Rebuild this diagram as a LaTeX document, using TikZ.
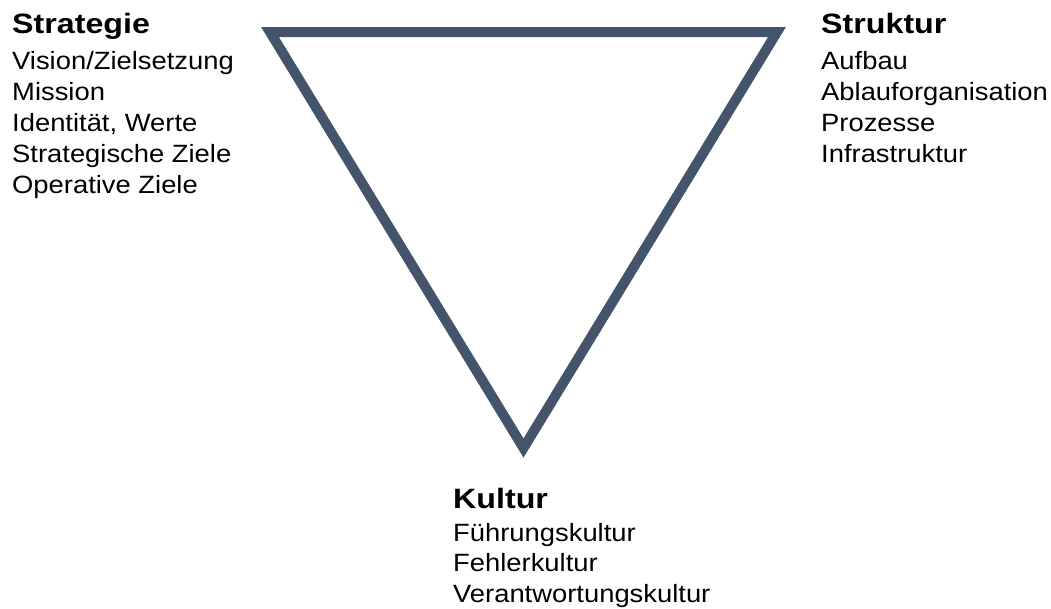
\documentclass[tikz,border=0pt]{standalone}
\usepackage{fontspec}
\setmainfont{Liberation Sans}
\newfontfamily\bodyf{Liberation Sans}[FakeStretch=1.095]
\newfontfamily\headf{Liberation Sans Bold}[FakeStretch=1.15]
\definecolor{tri}{HTML}{44546A}
\begin{document}
\begin{tikzpicture}[x=1pt,y=-1pt,
  head/.style={anchor=base west,inner sep=0pt,font=\headf\fontsize{28}{30}\selectfont},
  body/.style={anchor=base west,inner sep=0pt,font=\bodyf\fontsize{25}{30}\selectfont}]
\useasboundingbox (0,0) rectangle (1051,608);
\coordinate (A) at (270,32);
\coordinate (B) at (777,32);
\coordinate (C) at (523.5,448);
\draw[tri,line width=10pt,line join=miter] (A) -- (B) -- (C) -- cycle;
% Strategie
\node[head] (sh) at (12,33) {Strategie};
\node[body] (s1) at (12,69) {Vision/Zielsetzung};
\node[body] (s2) at (12,100) {Mission};
\node[body] (s3) at (12,131) {Identität, Werte};
\node[body] (s4) at (12,162) {Strategische Ziele};
\node[body] (s5) at (12,193) {Operative Ziele};
% Struktur
\node[head] (th) at (821,33) {Struktur};
\node[body] (t1) at (821,69) {Aufbau};
\node[body] (t2) at (821,100) {Ablauforganisation};
\node[body] (t3) at (821,131) {Prozesse};
\node[body] (t4) at (821,162) {Infrastruktur};
% Kultur
\node[head] (kh) at (453,508) {Kultur};
\node[body] (k1) at (453,541) {Führungskultur};
\node[body] (k2) at (453,571.5) {Fehlerkultur};
\node[body] (k3) at (453,602) {Verantwortungskultur};
\end{tikzpicture}
\end{document}
